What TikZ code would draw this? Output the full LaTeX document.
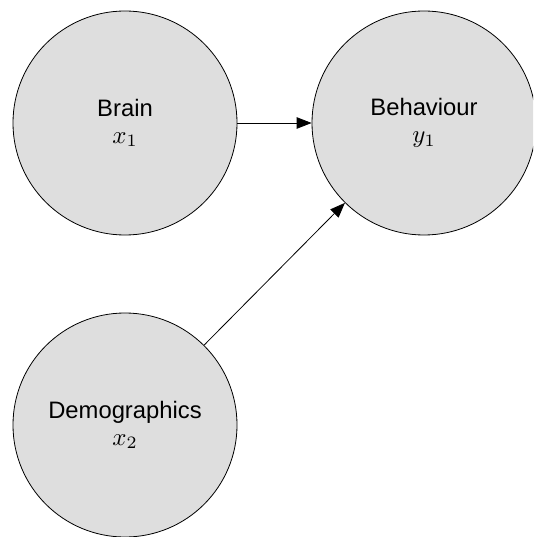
\documentclass[tikz,border=0pt]{standalone}
\usepackage[no-math]{fontspec}
\usepackage{graphicx}
\setmainfont{Liberation Sans}
\usetikzlibrary{arrows.meta}
\definecolor{nodefill}{RGB}{222,222,222}
% large labels: sans names, Computer Modern symbols blown up from 10pt
\newcommand{\namesize}{\fontsize{23.8}{26.6}\selectfont}
\newcommand{\sym}[1]{\scalebox{2.49}{\normalsize$#1$}}
\begin{document}
\begin{tikzpicture}[x=1pt,y=-1pt,
  var/.style={circle,draw=black,fill=nodefill,line width=0.8pt,
    minimum size=224pt,inner sep=0pt,align=center,font=\namesize},
  edge/.style={-{Triangle[length=15pt,width=11.5pt]},line width=0.8pt}]
  \useasboundingbox (0,0) rectangle (533,537);
  \clip (0,0) rectangle (533,537);
  % variables
  \node[var] (brain) at (125,123) {Brain\\\sym{x_1}};
  \node[var] (behav) at (424,123) {Behaviour\\\sym{y_1}};
  \node[var] (demo)  at (125,425) {Demographics\\\sym{x_2}};
  % effects
  \draw[edge] (brain) -- (behav);
  \draw[edge] (demo) -- (behav);
\end{tikzpicture}
\end{document}
